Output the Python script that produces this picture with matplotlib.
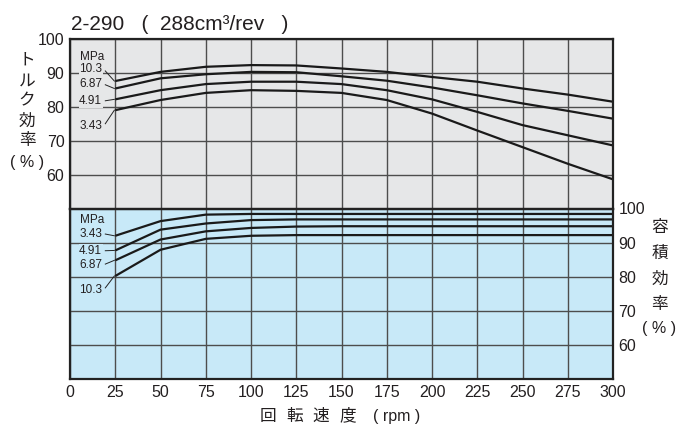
import matplotlib
matplotlib.use("Agg")
import matplotlib.pyplot as plt

plt.rcParams['font.family'] = ['Liberation Sans', 'Noto Sans CJK JP', 'DejaVu Sans']

rpm = [25, 50, 75, 100, 125, 150, 175, 200, 225, 250, 275, 300]

# Torque efficiency (%) by pressure (MPa)
torque = {
    "10.3": [87.6, 90.3, 91.8, 92.3, 92.2, 91.3, 90.3, 88.8, 87.4, 85.4, 83.6, 81.5],
    "6.87": [85.4, 88.4, 89.6, 90.3, 90.2, 89.0, 87.7, 85.7, 83.4, 81.0, 78.8, 76.5],
    "4.91": [82.2, 84.9, 86.7, 87.4, 87.4, 86.7, 84.9, 82.2, 78.5, 74.6, 71.6, 68.6],
    "3.43": [79.0, 82.0, 84.1, 84.9, 84.7, 84.1, 82.0, 78.0, 73.0, 68.1, 63.2, 58.6],
}
# Volumetric efficiency (%) by pressure (MPa)
volume = {
    "3.43": [92.0, 96.3, 98.2, 98.4, 98.4, 98.4, 98.4, 98.4, 98.4, 98.4, 98.4, 98.4],
    "4.91": [87.7, 93.8, 95.6, 96.6, 96.8, 96.8, 96.8, 96.8, 96.8, 96.8, 96.8, 96.8],
    "6.87": [84.8, 90.9, 93.3, 94.3, 94.7, 94.8, 94.8, 94.8, 94.8, 94.8, 94.8, 94.8],
    "10.3": [80.2, 87.9, 91.1, 92.0, 92.2, 92.2, 92.2, 92.2, 92.2, 92.2, 92.2, 92.2],
}
x_ticks = [0, 25, 50, 75, 100, 125, 150, 175, 200, 225, 250, 275, 300]
y_ticks = [60, 70, 80, 90, 100]

# label positions (value axis) for the pressure labels
torque_label_y = {"10.3": 91.1, "6.87": 86.7, "4.91": 81.7, "3.43": 74.3}
volume_label_y = {"3.43": 92.6, "4.91": 87.6, "6.87": 83.5, "10.3": 76.1}

W, H = 682, 428
fig = plt.figure(figsize=(W / 100, H / 100), dpi=100)

L, R = 70 / W, 613 / W
y_top, y_mid, y_bot = 1 - 39 / H, 1 - 208.5 / H, 1 - 379 / H
ax1 = fig.add_axes([L, y_mid, R - L, y_top - y_mid])
ax2 = fig.add_axes([L, y_bot, R - L, y_mid - y_bot], sharex=ax1)

top_bg = "#e6e7e8"
bot_bg = "#c8e9f8"
grid_c = "#4d4d4d"
txt_c = "#231f20"

for ax, bg in ((ax1, top_bg), (ax2, bot_bg)):
    ax.set_facecolor(bg)
    ax.set_xlim(0, 300)
    ax.set_ylim(50, 100)
    ax.set_xticks(x_ticks)
    ax.set_yticks(y_ticks)
    ax.grid(True, color=grid_c, lw=1.0)
    ax.set_axisbelow(True)
    for s in ax.spines.values():
        s.set_linewidth(1.6)
        s.set_color("#222222")
    ax.tick_params(length=0, labelsize=11.5, colors=txt_c)

ax1.tick_params(labelbottom=False, pad=4)
ax2.tick_params(labelleft=False, labelright=True, pad=4)
ax2.tick_params(axis="x", pad=4)

for k, v in torque.items():
    ax1.plot(rpm, v, color="#1a1a1a", lw=1.6, solid_capstyle="butt")
for k, v in volume.items():
    ax2.plot(rpm, v, color="#1a1a1a", lw=1.6, solid_capstyle="butt")

lab_fs = 8.5
def labels(ax, data, ypos, mpa_y, bg):
    ax.text(5.5, mpa_y, "MPa", fontsize=lab_fs, ha="left", va="center", color=txt_c)
    for k, ly in ypos.items():
        ax.text(5, ly, k, fontsize=lab_fs, ha="left", va="center", color=txt_c,
                bbox=dict(facecolor=bg, edgecolor="none", pad=0.3))
        ax.plot([19.5, 24.5], [ly + (data[k][0] - ly) * 0.15, data[k][0]],
                color="#222222", lw=0.7)

labels(ax1, torque, torque_label_y, 94.7, top_bg)
labels(ax2, volume, volume_label_y, 96.5, bot_bg)

def px(x, y):
    return x / W, 1 - y / H

fig.text(*px(71, 24), "2-290   (  288cm\u00b3/rev   )", fontsize=15, ha="left", va="center",
         color=txt_c)

cjk = ['Noto Sans CJK JP', 'DejaVu Sans']
for ch, yy in zip("トルク効率", [60, 81, 101, 121, 141]):
    fig.text(*px(27, yy), ch, fontsize=12, ha="center", va="center",
             family=cjk, color=txt_c)
fig.text(*px(27, 163), "( % )", fontsize=11.5, ha="center", va="center", color=txt_c)

for ch, yy in zip("容積効率", [228, 253, 279, 305]):
    fig.text(*px(660, yy), ch, fontsize=12, ha="center", va="center",
             family=cjk, color=txt_c)
fig.text(*px(659, 329), "( % )", fontsize=11.5, ha="center", va="center", color=txt_c)

for ch, xx in zip("回転速度", [268, 295, 321, 348]):
    fig.text(*px(xx, 416), ch, fontsize=12, ha="center", va="center",
             family=cjk, color=txt_c)
fig.text(*px(397, 416), "( rpm )", fontsize=11.5, ha="center", va="center", color=txt_c)

fig.savefig("out.png", dpi=100)
